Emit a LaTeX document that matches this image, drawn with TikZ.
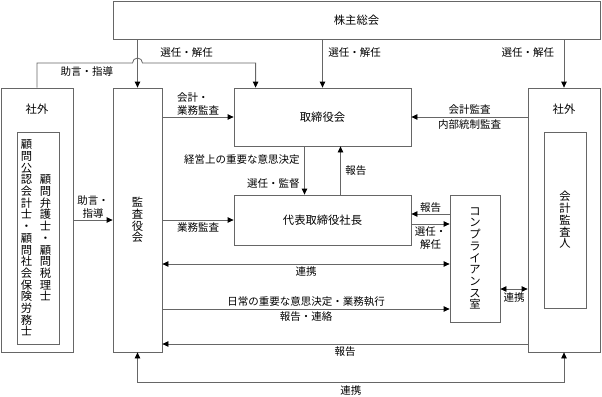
\documentclass[tikz,border=0pt]{standalone}
\usepackage{fontspec}
\setmainfont{Noto Sans CJK JP}
\usetikzlibrary{arrows.meta,calc,positioning}
\tikzset{
  >={Triangle[length=6pt,width=5.5pt,color=black]},
  box/.style={rectangle,draw=black!60,inner sep=0pt,font=\fontsize{11.3}{13}\selectfont},
  ttl/.style={inner sep=0pt,font=\fontsize{11.3}{13}\selectfont},
  lab/.style={inner sep=2.5pt,font=\fontsize{10.5}{12.5}\selectfont},
  ln/.style={draw=black!60},
  every picture/.style={line width=0.8pt},
}
\newcommand\tate[1]{\vbox{\baselineskip=11.7pt\tatechar#1\relax}}
\def\tatechar#1{\ifx#1\relax\else\hbox to 11.3pt{\hss#1\hss}\expandafter\tatechar\fi}
\begin{document}
\begin{tikzpicture}[x=1pt,y=-1pt]
\useasboundingbox (0,0) rectangle (602,396);
% boxes
\node[box,minimum width=487pt,minimum height=38pt] (soukai) at (356.5,20) {株主総会};
\node[box,minimum width=72pt,minimum height=264pt] (gaibuL) at (37,220) {};
\node[ttl,below=16pt of gaibuL.north] (gaibuLt) {社外};
\node[box,minimum width=42pt,minimum height=212pt] (komon) at (38.5,238) {};
\node[ttl] (komonA) at ([xshift=-12pt]komon.center) {\tate{顧問公認会計士・顧問社会保険労務士}};
\node[ttl] (komonB) at ([xshift=7pt]komon.center) {\tate{顧問弁護士・顧問税理士}};
\node[box,minimum width=49pt,minimum height=264pt] (kansa) at (137.5,220) {\tate{監査役会}};
\node[box,minimum width=177pt,minimum height=58pt] (torishimari) at (322.5,117) {取締役会};
\node[box,minimum width=177pt,minimum height=50pt] (daihyo) at (322.5,220) {代表取締役社長};
\node[box,minimum width=50pt,minimum height=127pt] (comp) at (475,258.5) {\tate{コンプライアンス室}};
\node[box,minimum width=72pt,minimum height=264pt] (gaibuR) at (564,220) {};
\node[ttl,below=16pt of gaibuR.north] (gaibuRt) {社外};
\node[box,minimum width=42pt,minimum height=176pt] (kaikei) at (565,220) {\tate{会計監査人}};
% helper points
\coordinate (bend) at (0,63);
\coordinate (adv) at ([xshift=22pt]torishimari.north west);
\coordinate (d1) at ([yshift=6pt]daihyo.east);
\coordinate (d2) at ([yshift=-4pt]daihyo.east);
\coordinate (c1) at ([yshift=-5.5pt]comp.west);
\coordinate (c2) at ([yshift=-50.5pt]comp.west);
\coordinate (c3) at ([yshift=-30.5pt]comp.east);
\coordinate (g1) at ([yshift=-124pt]gaibuR.west);
\coordinate (g2) at ([yshift=-30pt]gaibuR.south);
% top
\draw[ln,->] (kansa.north |- soukai.south) -- node[lab,pos=0.27,anchor=west,xshift=20pt]{選任・解任} (kansa.north);
\draw[ln,->] (torishimari.north |- soukai.south) -- node[lab,pos=0.27,anchor=west,xshift=3pt]{選任・解任} (torishimari.north);
\draw[ln,->] (gaibuR.north |- soukai.south) -- node[lab,pos=0.27,anchor=east,xshift=-7pt]{選任・解任} (gaibuR.north);
\draw[ln,->] (gaibuL.north) |- node[lab,below,pos=0.75,xshift=2pt,yshift=-1pt]{助言・指導} ([xshift=-5pt]kansa.north |- bend)
  arc[start angle=180,end angle=0,radius=5pt] -- (adv |- bend) -- (adv);
% board
\draw[ln,->] (kansa.east |- torishimari.west) -- node[lab,above,align=left,inner sep=1.5pt]{会計・\\業務監査} (torishimari.west);
\draw[ln,->] (gaibuR.west |- torishimari.east) -- node[lab,above]{会計監査} node[lab,below]{内部統制監査} (torishimari.east);
\draw[ln,->] ([xshift=-18pt]torishimari.south) -- node[lab,left,pos=0.27,xshift=-2pt]{経営上の重要な意思決定}
  node[lab,left,pos=0.76,xshift=-2pt]{選任・監督} ([xshift=-18pt]torishimari.south |- daihyo.north);
\draw[ln,->] ([xshift=18pt]torishimari.south |- daihyo.north) -- node[lab,right,xshift=2pt]{報告} ([xshift=18pt]torishimari.south);
% middle
\draw[ln,->] (gaibuL.east) -- node[lab,above,align=center,inner sep=1.5pt]{助言・\\指導} (kansa.west);
\draw[ln,->] (kansa.east) -- node[lab,below]{業務監査} (daihyo.west);
\draw[ln,->] (comp.west |- d1) -- node[lab,above,inner sep=1.5pt]{報告} (d1);
\draw[ln,->] (d2) -- node[lab,below,align=center]{選任・\\解任} (comp.west |- d2);
\draw[ln,<->] (kansa.east |- c1) -- node[lab,below]{連携} (c1);
\draw[ln,->] (kansa.east |- c2) -- node[lab,above]{日常の重要な意思決定・業務執行} node[lab,below]{報告・連絡} (c2);
\draw[ln,<->] (c3) -- node[lab,below,yshift=-1pt]{連携} (gaibuR.west |- c3);
% bottom
\draw[ln,->] (g1) -- node[lab,below]{報告} (kansa.east |- g1);
\draw[ln,<->] (kansa.south) |- node[lab,below,pos=0.75]{連携} (g2) -- (gaibuR.south);
\end{tikzpicture}
\end{document}
